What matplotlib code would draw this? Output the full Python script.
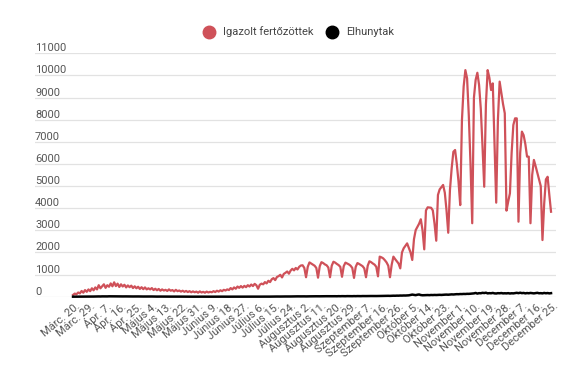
import matplotlib
matplotlib.use('Agg')
import matplotlib.pyplot as plt
from matplotlib import transforms
from matplotlib.lines import Line2D
import numpy as np

plt.rcParams['font.family'] = ['Roboto', 'DejaVu Sans']

# tick labels, one every 9 days (Márc. 20. -> December 25.)
labels = ['Márc. 20.', 'Márc. 29.', 'Ápr. 7.', 'Ápr. 16.', 'Ápr. 25.',
          'Május 4.', 'Május 13.', 'Május 22.', 'Május 31.', 'Június 9.',
          'Június 18.', 'Június 27.', 'Július 6.', 'Július 15.', 'Július 24.',
          'Augusztus 2.', 'Augusztus 11.', 'Augusztus 20.', 'Augusztus 29.',
          'Szeptember 7.', 'Szeptember 16.', 'Szeptember 26.', 'Október 5.',
          'Október 14.', 'Október 23.', 'November 1.', 'November 10.',
          'November 19.', 'November 28.', 'December 7.', 'December 16.',
          'December 25.']

# daily confirmed cases (9 days per row)
confirmed = [
    80, 140, 110, 190, 150, 260, 180, 300, 220,
    330, 250, 380, 290, 420, 330, 520, 380, 470,
    560, 400, 520, 450, 600, 470, 650, 480, 590,
    440, 560, 460, 540, 420, 510, 430, 500, 390,
    470, 380, 450, 350, 430, 340, 420, 330, 380,
    330, 390, 300, 360, 290, 350, 270, 330, 280,
    310, 260, 330, 270, 300, 240, 310, 250, 280,
    230, 270, 220, 260, 210, 250, 200, 240, 200,
    230, 180, 240, 190, 220, 180, 230, 190, 220,
    200, 250, 210, 270, 230, 290, 250, 310, 280,
    330, 300, 390, 330, 420, 360, 460, 400, 480,
    410, 490, 430, 520, 460, 550, 480, 580, 520,
    360, 540, 590, 560, 660, 600, 720, 660, 790,
    840, 750, 890, 930, 990, 870, 1030, 1080, 1140,
    1040, 1180, 1260, 1190, 1300, 1230, 1350, 1410, 1420,
    1300, 880, 1350, 1550, 1500, 1450, 1400, 1300, 860,
    1380, 1560, 1520, 1460, 1420, 1320, 880, 1400, 1580,
    1540, 1480, 1430, 1350, 900, 1380, 1540, 1500, 1460,
    1400, 1300, 850, 1350, 1520, 1480, 1430, 1380, 1280,
    880, 1400, 1600, 1560, 1500, 1450, 1350, 920, 1810,
    1780, 1735, 1650, 1550, 1400, 880, 1450, 1810, 1700,
    1600, 1500, 1280, 2000, 2190, 2300, 2410, 2200, 2000,
    1660, 2600, 3010, 3150, 3300, 3500, 3000, 2140, 3900,
    4040, 4030, 4020, 3900, 3300, 2530, 4600, 4850, 4950,
    5050, 4700, 3900, 2890, 4820, 5800, 6550, 6630, 6000,
    5200, 4140, 7980, 9500, 10240, 9870, 8200, 6000, 3320,
    9000, 9800, 10120, 9570, 8500, 6800, 4970, 8700, 10240,
    9900, 9340, 9640, 7000, 4250, 8000, 9720, 9200, 8700,
    8290, 3890, 4300, 4670, 6500, 7760, 8060, 8060, 3390,
    6500, 7460, 7300, 6900, 6330, 6330, 3320, 5500, 6180,
    5900, 5600, 5300, 5000, 2560, 4200, 5300, 5420, 4600,
    3840,
]

# daily deaths
deaths = [
    1, 2, 2, 3, 1, 4, 3, 5, 4,
    6, 5, 8, 7, 10, 9, 12, 10, 14,
    12, 15, 13, 17, 14, 16, 18, 15, 13,
    16, 14, 12, 15, 13, 11, 14, 12, 10,
    12, 10, 11, 9, 10, 8, 9, 7, 8,
    7, 9, 6, 8, 5, 7, 6, 5, 6,
    5, 4, 6, 4, 5, 3, 4, 3, 4,
    3, 2, 4, 3, 2, 3, 2, 1, 2,
    2, 1, 3, 2, 1, 2, 1, 2, 1,
    1, 2, 1, 2, 3, 1, 2, 1, 2,
    2, 1, 3, 2, 2, 1, 3, 2, 2,
    2, 3, 2, 3, 2, 4, 3, 2, 3,
    3, 4, 3, 5, 4, 3, 5, 4, 6,
    5, 6, 8, 6, 7, 9, 8, 10, 9,
    11, 10, 12, 14, 13, 15, 12, 14, 16,
    15, 13, 17, 16, 18, 15, 17, 19, 16,
    18, 20, 17, 19, 22, 20, 18, 21, 23,
    22, 20, 24, 21, 25, 23, 22, 26, 24,
    25, 23, 27, 24, 28, 26, 25, 29, 27,
    28, 30, 27, 31, 29, 32, 30, 33, 35,
    34, 36, 38, 35, 40, 37, 42, 45, 43,
    48, 46, 52, 50, 55, 53, 58, 62, 80,
    95, 85, 70, 90, 100, 75, 65, 70, 72,
    75, 70, 78, 74, 80, 76, 82, 85, 80,
    88, 92, 95, 90, 98, 105, 100, 110, 115,
    112, 120, 118, 125, 122, 130, 128, 135, 140,
    150, 170, 140, 160, 155, 175, 165, 180, 150,
    160, 155, 170, 150, 145, 160, 155, 165, 150,
    155, 150, 160, 145, 155, 150, 165, 175, 160,
    180, 160, 170, 150, 165, 155, 170, 160, 150,
    165, 175, 155, 160, 150, 170, 155, 165, 150,
    160,
]

red = '#cf5159'
grey_text = '#555555'

W, H = 575, 387
fig = plt.figure(figsize=(W / 100, H / 100), dpi=100)
ax = fig.add_axes([35 / W, 1 - 296.7 / H, (556 - 35) / W, (296.7 - 53.3) / H])

x = np.arange(len(confirmed))
ax.plot(x, confirmed, color=red, lw=1.6, clip_on=False, zorder=3)
ax.plot(x, deaths, color='black', lw=1.8, clip_on=False, zorder=4)

ax.set_xlim(-22.2, 281.9)
ax.set_ylim(0, 11000)

# gridlines with labels sitting on top of them
trans = transforms.blended_transform_factory(ax.transAxes, ax.transData)
for v in range(0, 11001, 1000):
    ax.axhline(v, color='#e2e2e2', lw=0.9, zorder=0)
    ax.text(0, v, str(v), transform=trans, ha='left', va='bottom',
            fontsize=8, color=grey_text)
ax.set_yticks([])

ax.set_xticks(x[::9])
ax.set_xticklabels(labels, rotation=40, ha='right', va='center',
                   rotation_mode='anchor', fontsize=8, color=grey_text)
ax.tick_params(axis='x', length=0, pad=6)
shift = transforms.ScaledTranslation(4 / 72, 0, fig.dpi_scale_trans)
for lbl in ax.get_xticklabels():
    lbl.set_transform(lbl.get_transform() + shift)

for s in ax.spines.values():
    s.set_visible(False)

handles = [Line2D([], [], marker='o', ls='none', ms=9, color=red),
           Line2D([], [], marker='o', ls='none', ms=9, color='black')]
fig.legend(handles, ['Igazolt fertőzöttek', 'Elhunytak'], loc='center',
           bbox_to_anchor=(296 / W, 1 - 32 / H), ncol=2, frameon=False,
           fontsize=8, handletextpad=0.3, columnspacing=0.6,
           labelcolor='#444444')

fig.savefig('out.png', dpi=100)
